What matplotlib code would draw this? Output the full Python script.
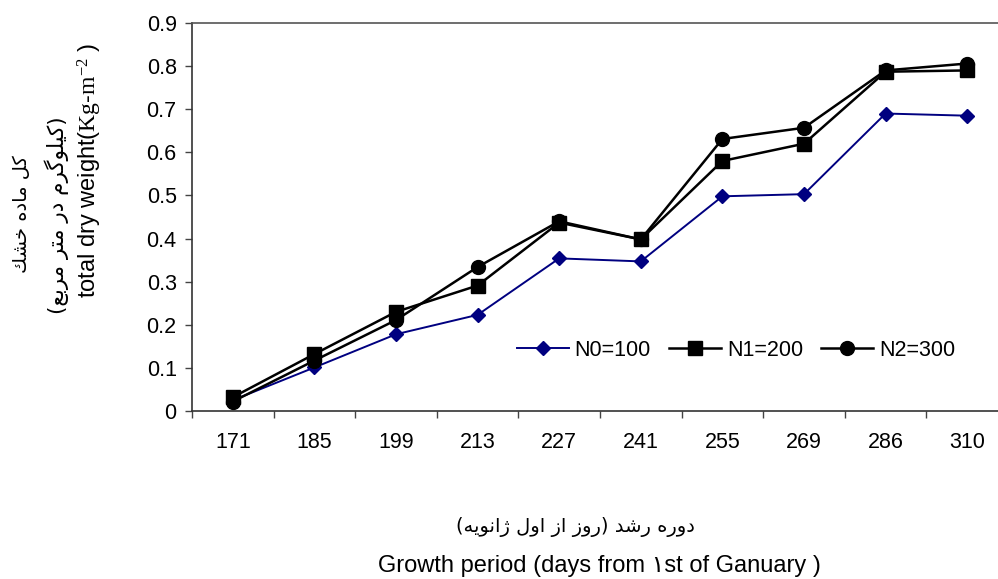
import re
import matplotlib
matplotlib.use("Agg")
import matplotlib.pyplot as plt

# ---------------- data ----------------
days = ["171", "185", "199", "213", "227", "241", "255", "269", "286", "310"]
n0_values = [0.025, 0.101, 0.178, 0.223, 0.354, 0.347, 0.498, 0.503, 0.690, 0.685]
n1_values = [0.032, 0.132, 0.230, 0.291, 0.437, 0.398, 0.580, 0.620, 0.787, 0.790]
n2_values = [0.022, 0.117, 0.211, 0.334, 0.440, 0.398, 0.631, 0.657, 0.790, 0.806]
series_labels = ["N0=100", "N1=200", "N2=300"]
y_ticks = [0, 0.1, 0.2, 0.3, 0.4, 0.5, 0.6, 0.7, 0.8, 0.9]
y_tick_labels = ["0", "0.1", "0.2", "0.3", "0.4", "0.5", "0.6", "0.7", "0.8", "0.9"]

ylabel_fa1 = "كل ماده خشك"
ylabel_fa2 = "(كيلوگرم در متر مربع)"
xlabel_fa = "دوره رشد (روز از اول ژانويه)"
xlabel_en = "Growth period (days from \u06f1st of Ganuary )"

# ---------------- simple Arabic shaping ----------------
FORMS = {
    'ا': (0xFE8D, 0xFE8E, None, None),
    'ب': (0xFE8F, 0xFE90, 0xFE91, 0xFE92),
    'ت': (0xFE95, 0xFE96, 0xFE97, 0xFE98),
    'خ': (0xFEA5, 0xFEA6, 0xFEA7, 0xFEA8),
    'د': (0xFEA9, 0xFEAA, None, None),
    'ر': (0xFEAD, 0xFEAE, None, None),
    'ز': (0xFEAF, 0xFEB0, None, None),
    'ژ': (0xFB8A, 0xFB8B, None, None),
    'ش': (0xFEB5, 0xFEB6, 0xFEB7, 0xFEB8),
    'ع': (0xFEC9, 0xFECA, 0xFECB, 0xFECC),
    'ك': (0xFED9, 0xFEDA, 0xFEDB, 0xFEDC),
    'گ': (0xFB92, 0xFB93, 0xFB94, 0xFB95),
    'ل': (0xFEDD, 0xFEDE, 0xFEDF, 0xFEE0),
    'م': (0xFEE1, 0xFEE2, 0xFEE3, 0xFEE4),
    'ن': (0xFEE5, 0xFEE6, 0xFEE7, 0xFEE8),
    'ه': (0xFEE9, 0xFEEA, 0xFEEB, 0xFEEC),
    'و': (0xFEED, 0xFEEE, None, None),
    'ي': (0xFEF1, 0xFEF2, 0xFEF3, 0xFEF4),
}


def shape_logical(s):
    out = []
    for i, c in enumerate(s):
        if c not in FORMS:
            out.append(c)
            continue
        prev = s[i - 1] if i > 0 else None
        nxt = s[i + 1] if i + 1 < len(s) else None
        jp = prev in FORMS and FORMS[prev][2] is not None
        jn = FORMS[c][2] is not None and nxt in FORMS
        f = FORMS[c]
        if jp and jn:
            g = f[3]
        elif jp:
            g = f[1]
        elif jn:
            g = f[2]
        else:
            g = f[0]
        out.append(chr(g))
    return "".join(out)


def rtl(s):
    vis = shape_logical(s)[::-1]
    mirror = {'(': ')', ')': '('}
    return "".join(mirror.get(ch, ch) for ch in vis)


# ---------------- figure ----------------
W, H = 998, 579
fig = plt.figure(figsize=(W / 100, H / 100), dpi=100)
fig.patch.set_facecolor("white")
ax = fig.add_axes([192 / W, 1 - 411 / H, (1008 - 192) / W, (411 - 23) / H])

FS = 15.5
SANS = ["Liberation Sans", "DejaVu Sans"]
plt.rcParams["mathtext.fontset"] = "custom"
plt.rcParams["mathtext.rm"] = "Liberation Serif"
plt.rcParams["mathtext.it"] = "Liberation Serif:italic"

x = list(range(len(days)))
ax.plot(x, n0_values, color="#000080", lw=1.4, marker="D", ms=7.5,
        label=series_labels[0], zorder=3)
ax.plot(x, n1_values, color="black", lw=1.8, marker="s", ms=10.5,
        label=series_labels[1], zorder=4)
ax.plot(x, n2_values, color="black", lw=1.8, marker="o", ms=10,
        label=series_labels[2], zorder=5)

ax.set_xlim(-0.5, len(days) - 0.5)
ax.set_ylim(0, 0.9)
ax.set_yticks(y_ticks)
ax.set_yticklabels(y_tick_labels, fontsize=FS, family=SANS)
ax.set_xticks(x)
ax.set_xticklabels(days, fontsize=FS, family=SANS)
ax.set_xticks([i - 0.5 for i in range(len(days) + 1)], minor=True)
ax.tick_params(axis="x", which="major", length=0, pad=15)
ax.tick_params(axis="x", which="minor", length=5, width=1, color="#444444",
               direction="out")
ax.tick_params(axis="y", which="major", length=5, width=1, color="#444444",
               direction="out", pad=6)

for side in ["left", "bottom"]:
    ax.spines[side].set_color("#333333")
    ax.spines[side].set_linewidth(1.2)
ax.spines["top"].set_color("#555555")
ax.spines["top"].set_linewidth(1.2)
ax.spines["right"].set_visible(False)

leg = ax.legend(loc="center left", bbox_to_anchor=(517 / W, 1 - 350 / H),
                bbox_transform=fig.transFigure, ncol=3, frameon=False,
                prop={"family": SANS, "size": FS}, handlelength=2.4,
                handletextpad=0.28, columnspacing=0.85, borderpad=0,
                borderaxespad=0, numpoints=1)

# y-axis title (three rotated lines)
fig.text(22 / W, 1 - 214 / H, rtl(ylabel_fa1), rotation=90, ha="center",
         va="center", fontsize=14, family=["DejaVu Sans"])
fig.text(57 / W, 1 - 215 / H, rtl(ylabel_fa2), rotation=90, ha="center",
         va="center", fontsize=15.5, family=["DejaVu Sans"])
fig.text(90 / W, 1 - 170 / H,
         r"total dry weight($\mathrm{Kg}$-$\mathrm{m^{-2}}$ )",
         rotation=90, ha="center", va="center", fontsize=17, family=SANS)

# x-axis title (two lines)
fig.text(575 / W, 1 - 527 / H, rtl(xlabel_fa), ha="center",
         va="center", fontsize=14, family=["DejaVu Sans"])
fig.text(599 / W, 1 - 566 / H, xlabel_en, ha="center", va="center",
         fontsize=17, family=SANS)

fig.savefig("out.png", dpi=100, facecolor="white")
